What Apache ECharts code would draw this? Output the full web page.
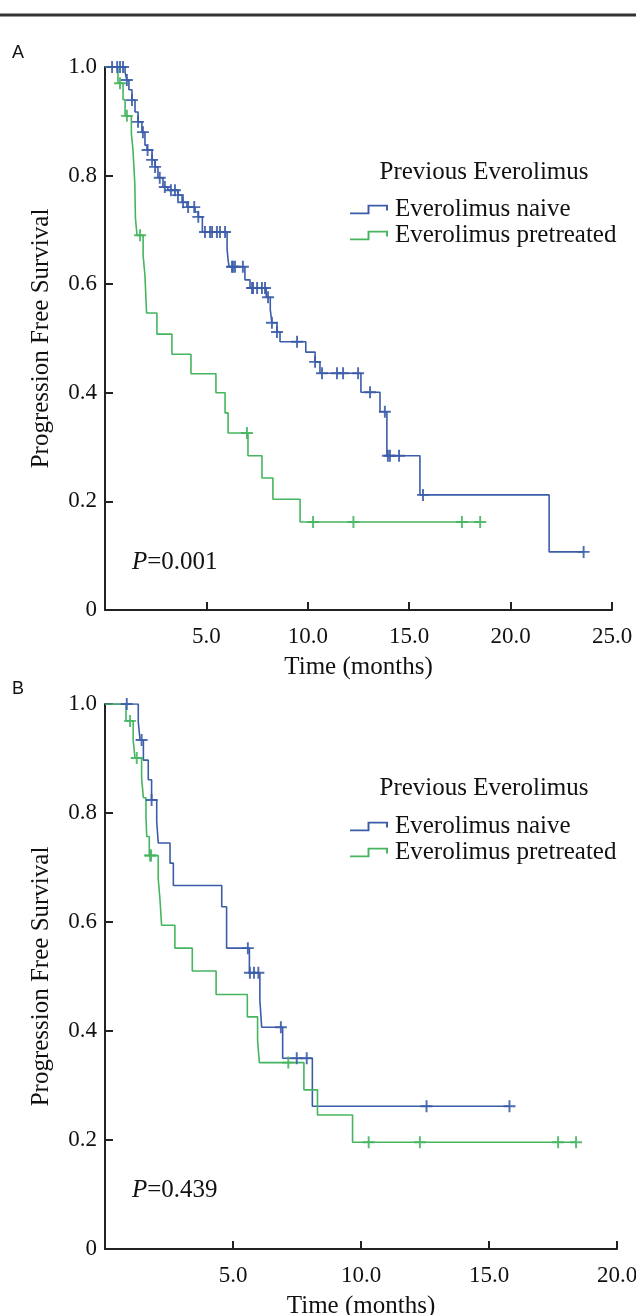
<!DOCTYPE html>
<html>
<head>
<meta charset="utf-8">
<script src="https://cdn.jsdelivr.net/npm/echarts@6/dist/echarts.min.js"></script>
<style>
html,body{margin:0;padding:0;background:#fff;}
#chart{width:636px;height:1315px;}
</style>
</head>
<body>
<div id="chart"></div>
<script>
// ---------- Panel A data ----------
const aNaiveTime  = [0, 0.99, 1.08, 1.18, 1.33, 1.48, 1.63, 1.82, 1.97, 2.07, 2.32, 2.47, 2.61, 2.86, 3.10, 3.60, 3.80, 4.04, 4.44, 4.60, 4.80, 6.02, 6.07, 6.12, 6.90, 7.15, 7.95, 8.15, 8.23, 8.48, 8.63, 9.90, 10.36, 10.60, 12.62, 13.56, 13.90, 15.53, 21.90, 23.60];
const aNaiveSurv  = [1.0, 0.990, 0.976, 0.958, 0.939, 0.917, 0.899, 0.880, 0.856, 0.847, 0.829, 0.816, 0.796, 0.779, 0.773, 0.764, 0.751, 0.742, 0.733, 0.724, 0.696, 0.664, 0.645, 0.632, 0.608, 0.593, 0.576, 0.553, 0.529, 0.512, 0.494, 0.475, 0.457, 0.436, 0.401, 0.365, 0.284, 0.212, 0.107, 0.107];
const aNaiveCensor = [0.35, 0.60, 0.74, 0.89, 1.08, 1.33, 1.63, 1.87, 2.10, 2.32, 2.47, 2.70, 2.95, 3.25, 3.45, 3.60, 3.85, 4.10, 4.40, 4.60, 4.93, 5.18, 5.28, 5.52, 5.67, 5.92, 6.26, 6.31, 6.41, 6.80, 7.25, 7.30, 7.50, 7.74, 7.89, 8.04, 8.23, 8.48, 9.47, 10.36, 10.70, 11.44, 11.74, 12.48, 13.07, 13.80, 13.95, 14.05, 14.50, 15.68, 23.60];

const aPreTime  = [0, 0.64, 0.89, 0.99, 1.30, 1.38, 1.47, 1.50, 1.58, 1.88, 1.97, 2.05, 2.56, 3.30, 4.24, 5.47, 5.92, 6.07, 7.05, 7.74, 8.28, 9.62, 18.50];
const aPreSurv  = [1.0, 0.970, 0.940, 0.910, 0.878, 0.847, 0.785, 0.722, 0.690, 0.653, 0.616, 0.547, 0.508, 0.471, 0.435, 0.400, 0.363, 0.326, 0.284, 0.243, 0.204, 0.162, 0.162];
const aPreCensor = [0.74, 1.08, 1.73, 7.00, 10.26, 12.25, 17.60, 18.50];

// ---------- Panel B data ----------
const bNaiveTime  = [0, 1.30, 1.37, 1.50, 1.69, 1.82, 2.02, 2.08, 2.54, 2.67, 4.56, 4.75, 5.64, 6.05, 6.12, 6.94, 8.10, 15.80];
const bNaiveSurv  = [1.0, 0.967, 0.934, 0.897, 0.861, 0.824, 0.784, 0.745, 0.708, 0.667, 0.628, 0.552, 0.507, 0.457, 0.407, 0.350, 0.262, 0.262];
const bNaiveCensor = [0.85, 1.43, 1.82, 5.58, 5.66, 5.82, 5.99, 6.87, 7.49, 7.88, 12.56, 15.80];

const bPreTime  = [0, 0.82, 1.10, 1.17, 1.43, 1.50, 1.60, 1.63, 1.73, 2.08, 2.15, 2.21, 2.73, 3.41, 4.34, 5.56, 5.96, 6.03, 7.77, 8.30, 9.67, 18.40];
const bPreSurv  = [1.0, 0.969, 0.934, 0.901, 0.864, 0.828, 0.793, 0.757, 0.722, 0.679, 0.640, 0.594, 0.552, 0.510, 0.467, 0.426, 0.383, 0.342, 0.292, 0.246, 0.196, 0.196];
const bPreCensor = [0.98, 1.24, 1.76, 1.80, 7.16, 10.30, 12.30, 17.70, 18.40];

// ---------- tick labels / texts ----------
const yTicks = [0, 0.2, 0.4, 0.6, 0.8, 1.0];
const seriesNames = ['Everolimus naive', 'Everolimus pretreated'];
const legendTitle = 'Previous Everolimus';
const pValues = ['0.001', '0.439'];

const BLUE = '#3b5ca9';
const GREEN = '#45b560';
const SERIF = '"Liberation Serif", "Times New Roman", serif';

function pairs(t, s) { return t.map((v, i) => [v, s[i]]); }
function survAt(t, times, surv) {
  let v = surv[0];
  for (let i = 0; i < times.length; i++) { if (times[i] <= t + 1e-9) v = surv[i]; }
  return v;
}
function censorPts(c, times, surv) { return c.map(t => [t, survAt(t, times, surv)]); }

const CROSS = 'path://M4.2,0H5.8V4.2H10V5.8H5.8V10H4.2V5.8H0V4.2H4.2Z';
const STEP_ICON = 'path://M0,7L18,7L18,-1L39,-1L39,5L37,5L37,1L20,1L20,9L0,9Z';

function lineSeries(name, idx, t, s, color) {
  return { name, type: 'line', step: 'end', xAxisIndex: idx, yAxisIndex: idx,
    data: pairs(t, s), showSymbol: false, symbol: 'none',
    lineStyle: { color, width: 1.6 }, itemStyle: { color }, z: 2, animation: false };
}
function censorSeries(name, idx, c, t, s, color) {
  return { name, type: 'scatter', xAxisIndex: idx, yAxisIndex: idx,
    data: censorPts(c, t, s), symbol: CROSS, symbolSize: 12,
    itemStyle: { color, opacity: 0.9 }, z: 3, animation: false, silent: true };
}

function xAxisOf(idx, max) {
  return { gridIndex: idx, type: 'value', min: 0, max, interval: 5,
    name: 'Time (months)', nameLocation: 'middle', nameGap: 45,
    nameTextStyle: { fontFamily: SERIF, fontSize: 25, color: '#111' },
    axisLine: { lineStyle: { color: '#222', width: 2 } },
    axisTick: { inside: true, length: 8, lineStyle: { color: '#222', width: 2 } },
    axisLabel: { fontFamily: SERIF, fontSize: 23, color: '#111', margin: 15,
      formatter: v => v === 0 ? '' : v.toFixed(1) },
    splitLine: { show: false } };
}
function yAxisOf(idx) {
  return { gridIndex: idx, type: 'value', min: 0, max: 1, interval: 0.2,
    name: 'Progression Free Survival', nameLocation: 'middle', nameGap: 51,
    nameTextStyle: { fontFamily: SERIF, fontSize: 25, color: '#111' },
    axisLine: { lineStyle: { color: '#222', width: 2 } },
    axisTick: { inside: true, length: 8, lineStyle: { color: '#222', width: 2 } },
    axisLabel: { fontFamily: SERIF, fontSize: 23, color: '#111', margin: 8,
      formatter: v => v === 0 ? '0' : v.toFixed(1) },
    splitLine: { show: false } };
}
function legendOf(top) {
  return { orient: 'vertical', left: 350, top, itemGap: 1, itemWidth: 38, itemHeight: 10,
    padding: 0, data: seriesNames.map(n => ({ name: n, icon: STEP_ICON })),
    textStyle: { fontFamily: SERIF, fontSize: 25, color: '#111', padding: [0, 0, 0, 2] },
    selectedMode: false };
}

const chart = echarts.init(document.getElementById('chart'), null, { renderer: 'canvas' });
chart.setOption({
  backgroundColor: '#fff',
  animation: false,
  grid: [
    { left: 105, top: 67, width: 507, height: 543, containLabel: false, outerBoundsMode: 'none' },
    { left: 105, top: 704, width: 512, height: 545, containLabel: false, outerBoundsMode: 'none' }
  ],
  xAxis: [xAxisOf(0, 25), xAxisOf(1, 20)],
  yAxis: [yAxisOf(0), yAxisOf(1)],
  legend: [legendOf(197), legendOf(814)],
  series: [
    lineSeries(seriesNames[0], 0, aNaiveTime, aNaiveSurv, BLUE),
    lineSeries(seriesNames[1], 0, aPreTime, aPreSurv, GREEN),
    censorSeries('A naive censored', 0, aNaiveCensor, aNaiveTime, aNaiveSurv, BLUE),
    censorSeries('A pretreated censored', 0, aPreCensor, aPreTime, aPreSurv, GREEN),
    lineSeries(seriesNames[0], 1, bNaiveTime, bNaiveSurv, BLUE),
    lineSeries(seriesNames[1], 1, bPreTime, bPreSurv, GREEN),
    censorSeries('B naive censored', 1, bNaiveCensor, bNaiveTime, bNaiveSurv, BLUE),
    censorSeries('B pretreated censored', 1, bPreCensor, bPreTime, bPreSurv, GREEN)
  ],
  graphic: [
    { type: 'line', shape: { x1: 0, y1: 15, x2: 636, y2: 15 }, style: { stroke: '#333', lineWidth: 3 } },
    { type: 'text', x: 12, y: 53, style: { text: 'A', font: '18px "Liberation Sans", Arial, sans-serif', fill: '#111', textVerticalAlign: 'middle' } },
    { type: 'text', x: 12, y: 689, style: { text: 'B', font: '18px "Liberation Sans", Arial, sans-serif', fill: '#111', textVerticalAlign: 'middle' } },
    { type: 'text', x: 484, y: 172, style: { text: legendTitle, font: '25px ' + SERIF, fill: '#111', textAlign: 'center', textVerticalAlign: 'middle' } },
    { type: 'text', x: 484, y: 788, style: { text: legendTitle, font: '25px ' + SERIF, fill: '#111', textAlign: 'center', textVerticalAlign: 'middle' } },
    { type: 'text', x: 132, y: 562, style: { text: '{i|P}=' + pValues[0], font: '25px ' + SERIF, fill: '#111', textVerticalAlign: 'middle',
      rich: { i: { fontStyle: 'italic', fontFamily: SERIF, fontSize: 25 } } } },
    { type: 'text', x: 132, y: 1190, style: { text: '{i|P}=' + pValues[1], font: '25px ' + SERIF, fill: '#111', textVerticalAlign: 'middle',
      rich: { i: { fontStyle: 'italic', fontFamily: SERIF, fontSize: 25 } } } }
  ]
});
</script>
</body>
</html>
